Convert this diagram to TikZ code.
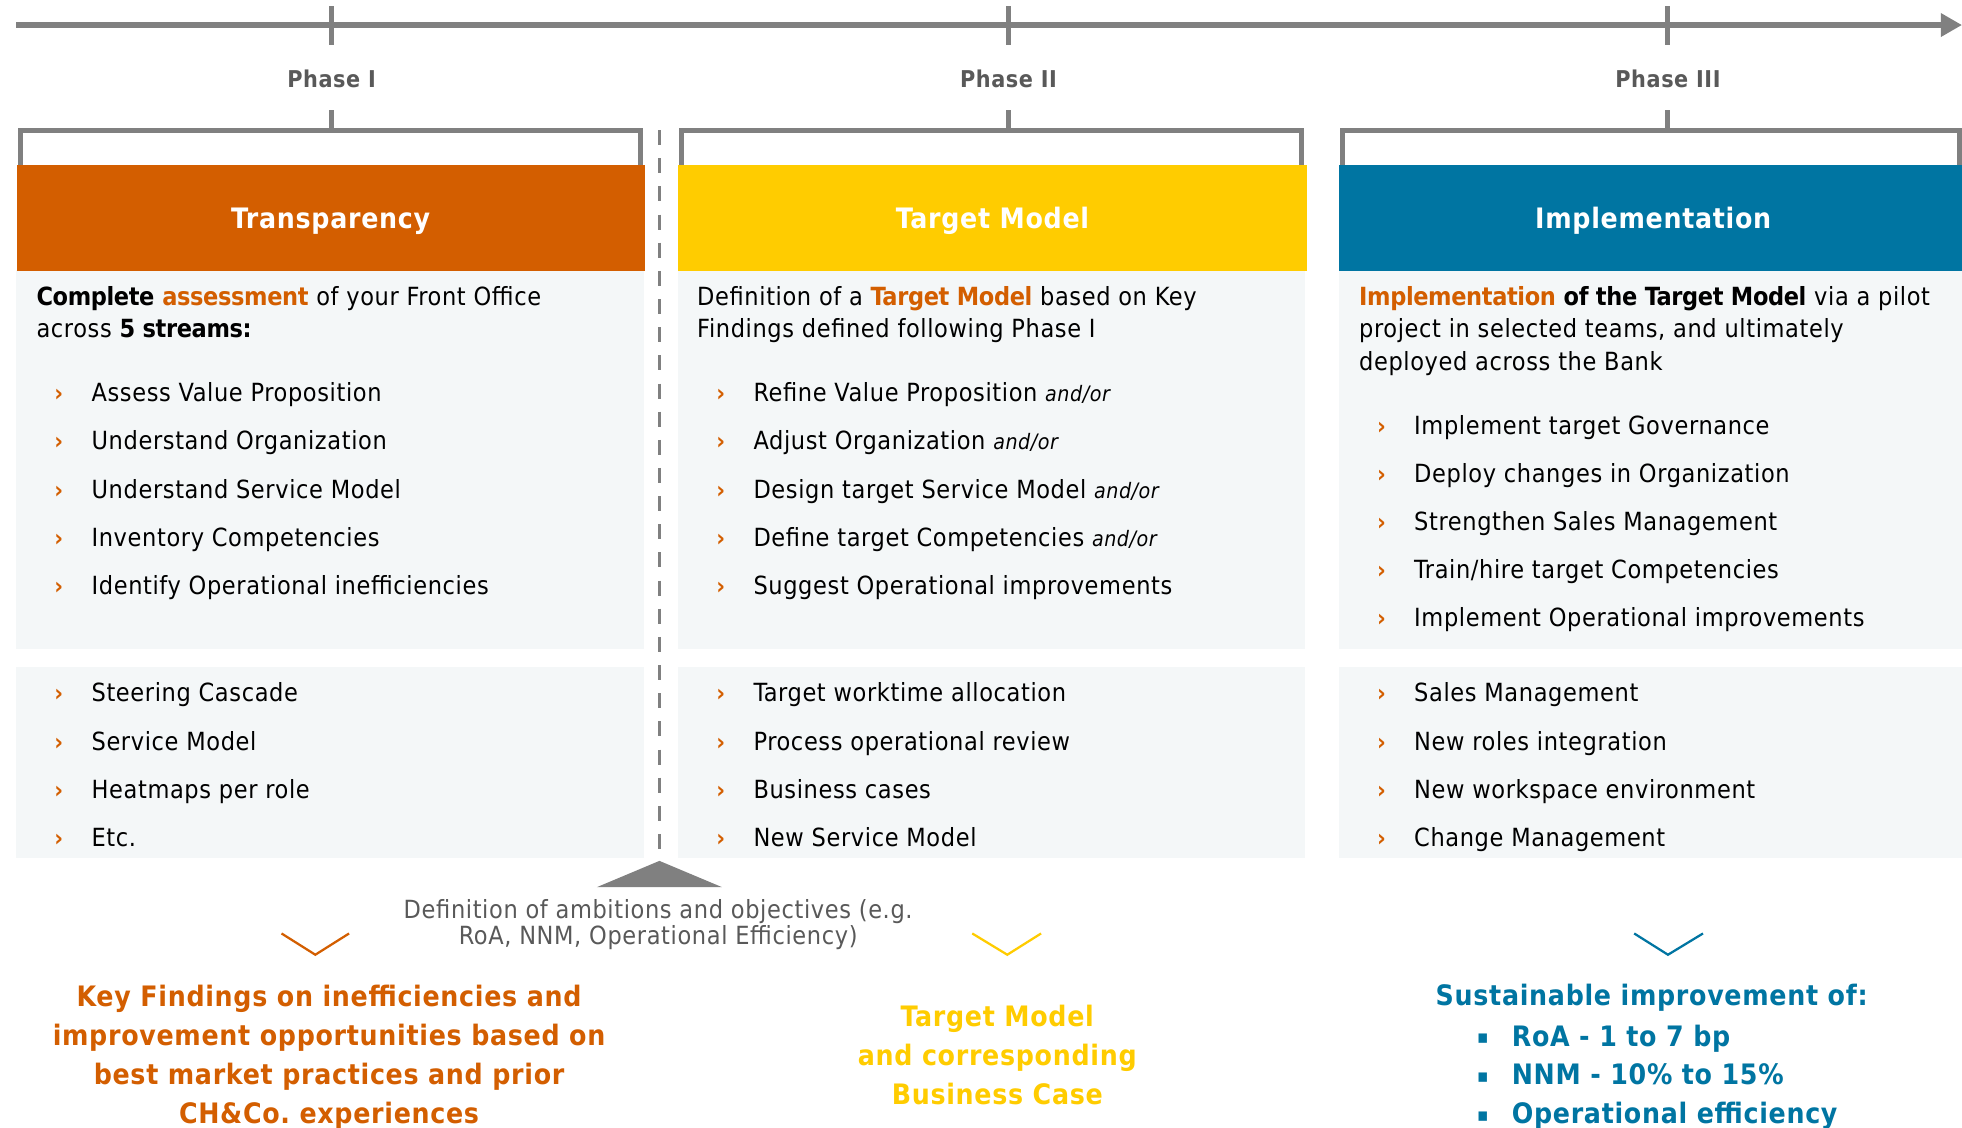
\documentclass[tikz,border=0pt]{standalone}
\usepackage{fontspec}
\setmainfont{DejaVuSansCondensed}[Extension=.ttf, BoldFont=*-Bold, ItalicFont=*-Oblique,
  BoldItalicFont=*-BoldOblique, LetterSpace=2.5]
\usetikzlibrary{arrows.meta, positioning}
\frenchspacing

\definecolor{chorange}{RGB}{211,94,0}
\definecolor{chyellow}{RGB}{255,204,0}
\definecolor{chblue}{RGB}{0,117,162}
\definecolor{chgray}{RGB}{128,128,128}
\definecolor{chtext}{RGB}{89,89,89}
\definecolor{panelbg}{RGB}{244,247,248}

\newcommand{\andor}{{\fontsize{17}{17}\selectfont\itshape and/or}}
% tighter bold inside running text
\newcommand{\bld}[1]{{\bfseries\addfontfeature{LetterSpace=-1.5}#1}}

\tikzset{
  phase/.style = {inner sep=0pt, font=\fontsize{18.5}{18.5}\selectfont\bfseries, text=chtext},
  header/.style = {fill=#1, text=white, anchor=north west, inner sep=0pt, text depth=0pt,
                   minimum height=84pt, minimum width=502pt,
                   font=\fontsize{22.5}{22.5}\selectfont\bfseries},
  panel/.style = {fill=panelbg},
  bracket/.style = {draw=chgray, line width=4pt},
  line/.style = {anchor=base west, inner sep=0pt, font=\fontsize{20}{26}\selectfont},
  bul/.style = {anchor=base, inner sep=0pt, text=chorange, font=\fontsize{19}{19}\selectfont\bfseries},
  result/.style = {align=center, inner sep=0pt, text=#1, font=\fontsize{22.5}{31}\selectfont\bfseries},
  chevron/.style = {draw=#1, line width=1.8pt}
}

\begin{document}
\begin{tikzpicture}[x=1pt, y=-1pt]
  \clip (0,0) rectangle (1568,901);
  \fill[white] (0,0) rectangle (1568,901);

  % time axis with the three phases
  \coordinate (t0) at (13,20);
  \coordinate (t1) at (1568,20);
  \draw[chgray, line width=5.5pt, -{Triangle[length=17pt, width=18pt]}] (t0) -- (t1);
  \foreach \x/\n/\lbl in {265/1/Phase I, 806/2/Phase II, 1333/3/Phase III} {
    \draw[chgray, line width=4pt] (\x,5) -- (\x,36);
    \node[phase] (ph\n) at (\x,63) {\lbl};
    \draw[chgray, line width=4pt] (\x,88) -- (\x,104);
  }

  % brackets over the columns
  \draw[bracket] (16,132) -- (16,104) -- (512,104) -- (512,132);
  \draw[bracket] (545,132) -- (545,104) -- (1040,104) -- (1040,132);
  \draw[bracket] (1073,132) -- (1073,104) -- (1566,104) -- (1566,132);

  % light panels
  \fill[panel] (13,216) rectangle (515,519);
  \fill[panel] (13,533) rectangle (515,686);
  \fill[panel] (542,216) rectangle (1043,519);
  \fill[panel] (542,533) rectangle (1043,686);
  \fill[panel] (1070,216) rectangle (1580,519);
  \fill[panel] (1070,533) rectangle (1580,686);

  % headers
  \node[header=chorange] (hA) at (13,132) {Transparency};
  \node[header=chyellow] (hB) at (542,132) {Target Model};
  \node[header=chblue, minimum width=502pt] (hC) at (1070,132) {Implementation};
  \fill[chblue] (hC.north east) rectangle (1580,216);

  % separator between phase I and II
  \draw[chgray, line width=3pt, dash pattern=on 12pt off 10.5pt] (527,104) -- (527,680);

  % column I
  \node[line] (iA1) at (29,244) {\bld{Complete} \textcolor{chorange}{\bld{assessment}} of your Front Office};
  \node[line] (iA2) at (29,270) {across \bld{5 streams:}};
  \foreach \txt [count=\i] in {Assess Value Proposition, Understand Organization,
      Understand Service Model, Inventory Competencies, Identify Operational inefficiencies} {
    \node[bul] (Aub\i) at (47,{282.5+38.5*\i}) {›};
    \node[line] (Aut\i) at (73,{282.5+38.5*\i}) {\txt};
  }
  \foreach \txt [count=\i] in {Steering Cascade, Service Model, Heatmaps per role, Etc.} {
    \node[bul] (Alb\i) at (47,{522.5+38.5*\i}) {›};
    \node[line] (Alt\i) at (73,{522.5+38.5*\i}) {\txt};
  }

  % column II
  \node[line] (iB1) at (557,244) {Definition of a \textcolor{chorange}{\bld{Target Model}} based on Key};
  \node[line] (iB2) at (557,270) {Findings defined following Phase I};
  \foreach \txt [count=\i] in {Refine Value Proposition \andor, Adjust Organization \andor,
      Design target Service Model \andor, Define target Competencies \andor,
      Suggest Operational improvements} {
    \node[bul] (Bub\i) at (576,{282.5+38.5*\i}) {›};
    \node[line] (But\i) at (602,{282.5+38.5*\i}) {\txt};
  }
  \foreach \txt [count=\i] in {Target worktime allocation, Process operational review,
      Business cases, New Service Model} {
    \node[bul] (Blb\i) at (576,{522.5+38.5*\i}) {›};
    \node[line] (Blt\i) at (602,{522.5+38.5*\i}) {\txt};
  }

  % column III
  \node[line] (iC1) at (1086,244) {\textcolor{chorange}{\bld{Implementation}} \bld{of the Target Model} via a pilot};
  \node[line] (iC2) at (1086,270) {project in selected teams, and ultimately};
  \node[line] (iC3) at (1086,296) {deployed across the Bank};
  \foreach \txt [count=\i] in {Implement target Governance, Deploy changes in Organization,
      Strengthen Sales Management, Train/hire target Competencies,
      Implement Operational improvements} {
    \node[bul] (Cub\i) at (1104,{308.5+38.5*\i}) {›};
    \node[line] (Cut\i) at (1130,{308.5+38.5*\i}) {\txt};
  }
  \foreach \txt [count=\i] in {Sales Management, New roles integration,
      New workspace environment, Change Management} {
    \node[bul] (Clb\i) at (1104,{522.5+38.5*\i}) {›};
    \node[line] (Clt\i) at (1130,{522.5+38.5*\i}) {\txt};
  }

  % objectives
  \fill[chgray] (527,688) -- (577,709) -- (477,709) -- cycle;
  \node[align=center, inner sep=0pt, text=chtext, font=\fontsize{20}{21}\selectfont] (obj) at (526,739)
    {Definition of ambitions and objectives (e.g.\\RoA, NNM, Operational Efficiency)};

  % outcomes
  \draw[chevron=chorange] (225,746) -- (252,763) -- (279,746);
  \draw[chevron=chyellow] (777,746) -- (805,763) -- (832,746);
  \draw[chevron=chblue] (1306,746) -- (1333,763) -- (1361,746);

  \node[result=chorange] (oA) at (263,845)
    {Key Findings on inefficiencies and\\improvement opportunities based on\\best market practices and prior\\CH\&Co. experiences};
  \node[result=chyellow] (oB) at (797,843) {Target Model\\and corresponding\\Business Case};
  \node[result=chblue] (oC) at (1320,797) {Sustainable improvement of:};
  \foreach \txt [count=\i] in {RoA - 1 to 7 bp, NNM - 10\% to 15\%, Operational efficiency} {
    \node[anchor=base, inner sep=0pt, text=chblue, font=\fontsize{15}{15}\selectfont] (oCb\i) at (1185,{803+31*\i}) {▪};
    \node[anchor=base west, inner sep=0pt, text=chblue, font=\fontsize{22.5}{22.5}\selectfont\bfseries] (oCt\i) at (1208,{805+31*\i}) {\txt};
  }
\end{tikzpicture}
\end{document}
